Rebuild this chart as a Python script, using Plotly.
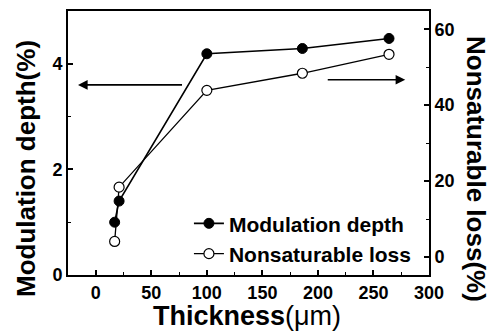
import plotly.graph_objects as go

thickness = [17, 21, 100, 186, 264]
modulation_depth = [1.0, 1.4, 4.19, 4.29, 4.48]
nonsat_loss = [4.1, 18.4, 43.9, 48.4, 53.4]

x_ticks = [0, 50, 100, 150, 200, 250, 300]
y1_ticks = [0, 2, 4]
y2_ticks = [0, 20, 40, 60]

FONT = "Arial, 'Liberation Sans', sans-serif"

fig = go.Figure()
fig.add_trace(go.Scatter(
    x=thickness, y=modulation_depth, name="Modulation depth", mode="lines+markers",
    line=dict(color="black", width=1.6),
    marker=dict(symbol="circle", size=10, color="black", line=dict(color="black", width=1)),
))
fig.add_trace(go.Scatter(
    x=thickness, y=nonsat_loss, name="Nonsaturable loss", mode="lines+markers", yaxis="y2",
    line=dict(color="black", width=1.3),
    marker=dict(symbol="circle", size=10, color="white", line=dict(color="black", width=1.2)),
))

tickfont = dict(family=FONT, size=18, color="black", weight="bold")

L, R, T, B = 68, 63, 11, 56
pw = 492 - L - R
ph = 331 - T - B

def px_x(px):
    return (px - L) / pw

def px_y(py):
    return (331 - B - py) / ph

fig.update_layout(
    width=492, height=331,
    margin=dict(l=L, r=R, t=T, b=B, autoexpand=False),
    paper_bgcolor="white", plot_bgcolor="white",
    showlegend=True,
    legend=dict(x=0.335, y=0.272, xanchor="left", yanchor="top",
                font=dict(family=FONT, size=21, color="black", weight="bold"),
                bgcolor="rgba(0,0,0,0)", itemwidth=30, tracegroupgap=0),
    xaxis=dict(range=[-25, 300], tickvals=x_ticks, ticks="inside", ticklen=5, tickwidth=1.5,
               tickcolor="black", showline=True, linecolor="black", linewidth=2, mirror=True,
               showgrid=False, zeroline=False, tickfont=tickfont, automargin=False,
               minor=dict(dtick=25, tick0=0, ticks="inside", ticklen=3, tickcolor="black", tickwidth=1.2)),
    yaxis=dict(range=[0, 5], tickvals=y1_ticks, ticks="inside", ticklen=5, tickwidth=1.5,
               tickcolor="black", showline=True, linecolor="black", linewidth=2, mirror=True,
               showgrid=False, zeroline=False, tickfont=tickfont, automargin=False,
               minor=dict(dtick=1, tick0=0, ticks="inside", ticklen=3, tickcolor="black", tickwidth=1.2)),
    yaxis2=dict(range=[-4.74, 64.8], tickvals=y2_ticks, overlaying="y", side="right",
                ticks="inside", ticklen=5, tickwidth=1.5, tickcolor="black",
                showline=True, linecolor="black", linewidth=2, automargin=False,
                showgrid=False, zeroline=False, tickfont=tickfont,
                minor=dict(dtick=10, tick0=0, ticks="inside", ticklen=3, tickcolor="black", tickwidth=1.2)),
    annotations=[
        dict(x=-16, y=3.6, xref="x", yref="y", ax=79, ay=3.6, axref="x", ayref="y",
             showarrow=True, arrowhead=2, arrowsize=1.2, arrowwidth=1.6, arrowcolor="black", text=""),
        dict(x=278.6, y=46.7, xref="x", yref="y2", ax=207.5, ay=46.7, axref="x", ayref="y2",
             showarrow=True, arrowhead=2, arrowsize=1.2, arrowwidth=1.6, arrowcolor="black", text=""),
        dict(x=px_x(476), y=px_y(169), xref="paper", yref="paper",
             xanchor="center", yanchor="middle", text="<b>Nonsaturable loss(%)</b>",
             showarrow=False, textangle=90, font=dict(family=FONT, size=26, color="black")),
        dict(x=px_x(26), y=px_y(169), xref="paper", yref="paper",
             xanchor="center", yanchor="middle", text="<b>Modulation depth(%)</b>",
             showarrow=False, textangle=-90, font=dict(family=FONT, size=26, color="black")),
        dict(x=px_x(247), y=px_y(316), xref="paper", yref="paper",
             xanchor="center", yanchor="middle", text="<b>Thickness</b>(μm)",
             showarrow=False, font=dict(family=FONT, size=27, color="black")),
    ],
)

fig.write_html("out.html")
